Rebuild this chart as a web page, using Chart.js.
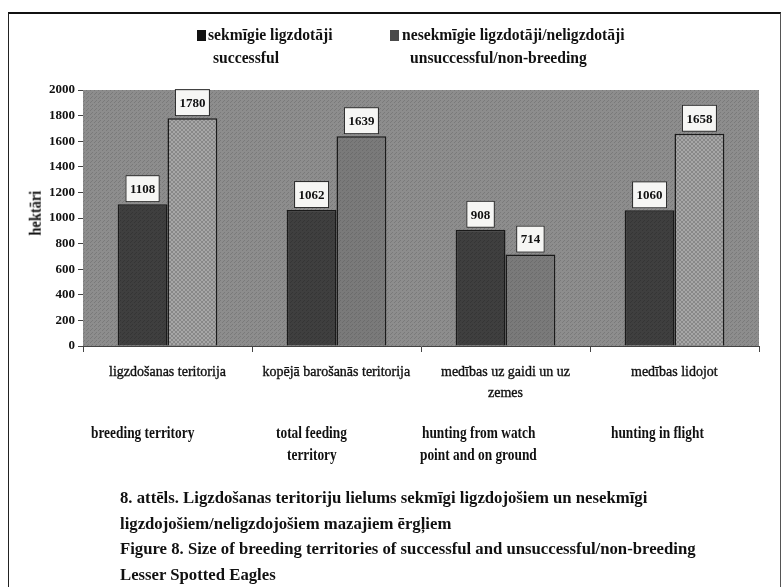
<!DOCTYPE html>
<html>
<head>
<meta charset="utf-8">
<script src="https://cdn.jsdelivr.net/npm/chart.js"></script>
<style>
  html, body { margin: 0; padding: 0; background: #fff; }
  #wrap { position: relative; width: 782px; height: 587px; overflow: hidden; background: #fff; }
  #chart { position: absolute; left: 0; top: 0; }
  #frame { position: absolute; left: 8px; top: 12px; width: 771px; height: 590px;
           border-left: 1px solid #222; border-top: 2px solid #111; border-right: 1px solid #555; }
  .t { position: absolute; white-space: nowrap; font-family: "Liberation Serif", "Times New Roman", serif;
       color: #111; line-height: 1.15; transform-origin: 0 50%; }
  .heavy { -webkit-text-stroke: 0.35px #111; }
  .sq { position: absolute; width: 9px; height: 11px; }
</style>
</head>
<body>
<div id="wrap">
  <div id="frame"></div>
  <canvas id="chart" width="782" height="587"></canvas>
</div>
<script>
// Chart data
const categories = [['ligzdošanas teritorija'], ['kopējā barošanās teritorija'], ['medības uz gaidi un uz', 'zemes'], ['medības lidojot']];
const categoriesEn = [['breeding territory'], ['total feeding', 'territory'], ['hunting from watch', 'point and on ground'], ['hunting in flight']];
const seriesNames = ['sekmīgie ligzdotāji', 'nesekmīgie ligzdotāji/neligzdotāji'];
const seriesNamesEn = ['successful', 'unsuccessful/non-breeding'];
const successful = [1108, 1062, 908, 1060];
const unsuccessful = [1780, 1639, 714, 1658];
const yMin = 0, yMax = 2000, yStep = 200;
const yTitle = 'hektāri';
const caption = [
  '8. attēls. Ligzdošanas teritoriju lielums sekmīgi ligzdojošiem un nesekmīgi',
  'ligzdojošiem/neligzdojošiem mazajiem ērgļiem',
  'Figure 8. Size of breeding territories of successful and unsuccessful/non-breeding',
  'Lesser Spotted Eagles'
];

const wrap = document.getElementById('wrap');
const ctx = document.getElementById('chart').getContext('2d');

// small dotted textures, like the scanned fills
function texture(base, dot, hatch) {
  const c = document.createElement('canvas');
  c.width = c.height = 4;
  const g = c.getContext('2d');
  g.fillStyle = base;
  g.fillRect(0, 0, 4, 4);
  g.fillStyle = dot;
  if (hatch) {
    for (let i = 0; i < 4; i++) { g.fillRect(i, i, 1, 1); g.fillRect(3 - i, i, 1, 1); }
  } else {
    g.fillRect(0, 0, 1, 1); g.fillRect(2, 2, 1, 1); g.fillRect(3, 1, 1, 1);
  }
  return ctx.createPattern(c, 'repeat');
}

const plotBg = texture('#8d8d8d', '#7a7a7a');
const darkFill = texture('#3f3f3f', '#353535');
const lightFill = texture('#a7a7a7', '#888888', true);
const midFill = texture('#7a7a7a', '#6c6c6c');
const secondFills = [lightFill, midFill, midFill, lightFill];

// gray plot background
const plotBackground = {
  id: 'plotBackground',
  beforeDatasetsDraw(chart) {
    const a = chart.chartArea;
    const c = chart.ctx;
    c.save();
    c.fillStyle = plotBg;
    c.fillRect(a.left, a.top, a.right - a.left, a.bottom - a.top);
    c.restore();
  }
};

// white value boxes above bars
const valueBoxes = {
  id: 'valueBoxes',
  afterDatasetsDraw(chart) {
    const c = chart.ctx;
    c.save();
    c.font = 'bold 13px "Liberation Serif"';
    c.textAlign = 'center';
    c.textBaseline = 'middle';
    chart.data.datasets.forEach((ds, di) => {
      chart.getDatasetMeta(di).data.forEach((bar, i) => {
        const txt = String(ds.data[i]);
        const w = c.measureText(txt).width + 9;
        const h = 27;
        const x = bar.x - w / 2;
        const y = bar.y - 2 - h;
        c.fillStyle = '#f6f6f4';
        c.fillRect(x, y, w, h);
        c.strokeStyle = '#222';
        c.lineWidth = 1;
        c.strokeRect(x + 0.5, y + 0.5, w - 1, h - 1);
        c.fillStyle = '#111';
        c.fillText(txt, bar.x, y + h / 2 + 1);
      });
    });
    c.restore();
  }
};

const chart = new Chart(ctx, {
  type: 'bar',
  data: {
    labels: categories,
    datasets: [
      { label: seriesNames[0], data: successful, backgroundColor: darkFill,
        borderColor: '#1a1a1a', borderWidth: 1.5, categoryPercentage: 0.59, barPercentage: 1.0 },
      { label: seriesNames[1], data: unsuccessful, backgroundColor: secondFills,
        borderColor: '#1a1a1a', borderWidth: 1.5, categoryPercentage: 0.59, barPercentage: 1.0 }
    ]
  },
  options: {
    responsive: false,
    devicePixelRatio: 1,
    animation: false,
    layout: { padding: { left: 0, right: 23, top: 90, bottom: 235 } },
    plugins: { legend: { display: false }, tooltip: { enabled: false } },
    scales: {
      x: {
        ticks: { display: false },
        grid: { offset: true, drawOnChartArea: false, tickLength: 6, color: '#444' },
        border: { color: '#444', width: 1 },
        afterFit(scale) { scale.height = 6; }
      },
      y: {
        min: yMin, max: yMax,
        ticks: { stepSize: yStep, padding: 3, color: '#111',
                 font: { family: 'Liberation Serif', size: 13, weight: 'bold' },
                 callback: v => String(v) },
        grid: { drawOnChartArea: false, tickLength: 5, color: '#444' },
        border: { color: '#444', width: 1 },
        afterFit(scale) { scale.width = 83; }
      }
    }
  },
  plugins: [plotBackground, valueBoxes]
});

// text helpers
function measure(txt, size, bold, cls) {
  const s = document.createElement('span');
  s.className = 't' + (cls ? ' ' + cls : '');
  s.style.fontSize = size + 'px';
  if (bold) s.style.fontWeight = 'bold';
  s.textContent = txt;
  wrap.appendChild(s);
  return s;
}

function putText(txt, x, y, opt) {
  const s = measure(txt, opt.size, opt.bold, opt.cls);
  const w0 = s.offsetWidth;
  const k = opt.width ? opt.width / w0 : (opt.scale || 1);
  const w = w0 * k;
  const left = opt.align === 'center' ? x - w / 2 : x;
  s.style.left = left + 'px';
  s.style.top = (y - s.offsetHeight / 2) + 'px';
  s.style.transform = 'scaleX(' + k + ')';
  return s;
}

function scaleFor(txt, size, bold, width) {
  const s = measure(txt, size, bold);
  const k = width / s.offsetWidth;
  s.remove();
  return k;
}

// legend
const sq1 = document.createElement('div');
sq1.className = 'sq';
sq1.style.cssText = 'left:197px;top:30px;background:#111;';
wrap.appendChild(sq1);
const sq2 = document.createElement('div');
sq2.className = 'sq';
sq2.style.cssText = 'left:390px;top:30px;background:#4a4a4a;';
wrap.appendChild(sq2);
const kLeg = scaleFor(seriesNames[0], 17, true, 125);
putText(seriesNames[0], 208, 35, { size: 17, bold: true, scale: kLeg });
putText(seriesNamesEn[0], 213, 58, { size: 17, bold: true, scale: kLeg });
putText(seriesNames[1], 402, 35, { size: 17, bold: true, scale: kLeg });
putText(seriesNamesEn[1], 410, 58, { size: 17, bold: true, scale: kLeg });

// y axis title
const yt = measure(yTitle, 16, true);
yt.style.left = (36 - yt.offsetWidth / 2) + 'px';
yt.style.top = (213 - yt.offsetHeight / 2) + 'px';
yt.style.transformOrigin = '50% 50%';
yt.style.transform = 'rotate(-90deg) scaleX(0.9)';

// category labels, Latvian under the axis, English further down
const xs = chart.scales.x;
const kLv = scaleFor(categories[0][0], 14, false, 117);
categories.forEach((lines, i) => {
  const cx = xs.getPixelForValue(i);
  lines.forEach((line, j) => putText(line, cx, 372 + j * 21, { size: 14, scale: kLv, align: 'center', cls: 'heavy' }));
});
const kEn = scaleFor(categoriesEn[0][0], 17, true, 103);
const enShift = [-25, -25, -27, -17];
categoriesEn.forEach((lines, i) => {
  const cx = xs.getPixelForValue(i) + enShift[i];
  lines.forEach((line, j) => putText(line, cx, 433 + j * 22, { size: 17, bold: true, scale: kEn, align: 'center' }));
});

// caption
const kCap = scaleFor(caption[2], 17, true, 576);
caption.forEach((line, i) => putText(line, 120, 498 + i * 25.5, { size: 17, bold: true, scale: kCap }));
</script>
</body>
</html>
